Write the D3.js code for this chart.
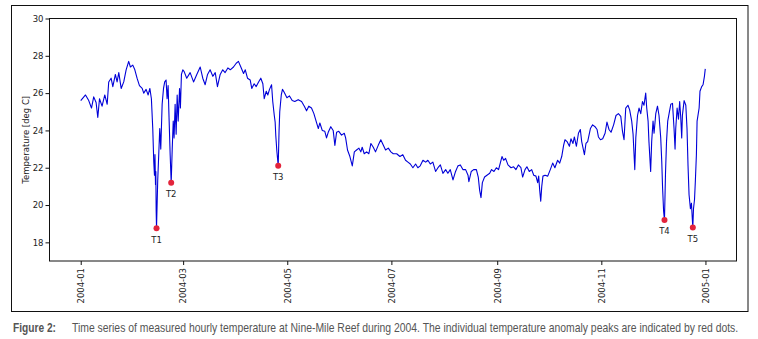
<!DOCTYPE html>
<html>
<head>
<meta charset="utf-8">
<script src="https://cdn.jsdelivr.net/npm/d3@7"></script>
<style>
  body { margin: 0; background: #fff; }
  svg { display: block; }
</style>
</head>
<body>
<svg id="chart" width="758" height="339"></svg>
<script>
// days since 2004-01-01 00:00 and temperature in deg C
const dayOfYear = [
  0.0, 2.8, 4.7, 6.3, 7.6, 9.0, 10.0, 11.0, 12.5, 14.1, 15.5, 16.4, 17.8, 18.8, 20.3, 21.3, 22.3, 23.7, 25.2, 26.6,
  28.1, 29.1, 30.5, 31.7, 33.0, 34.4, 36.0, 36.9, 38.3, 39.5, 40.5, 41.4, 42.2, 42.8, 43.2, 43.5, 43.8, 44.0, 44.2, 44.4,
  45.1, 45.7, 46.3, 46.9, 47.7, 48.5, 49.2, 50.0, 50.6, 51.2, 51.8, 52.4, 53.0, 53.6, 54.2, 54.7, 55.3, 55.9, 56.5, 57.1,
  57.9, 58.4, 59.0, 59.8, 60.6, 62.1, 64.1, 66.1, 68.0, 70.0, 71.5, 72.9, 74.3, 75.8, 77.4, 78.8, 80.1, 81.7, 83.2, 84.6,
  86.2, 87.6, 89.5, 91.1, 92.4, 93.8, 95.4, 96.4, 97.7, 99.3, 100.2, 101.6, 102.8, 104.2, 105.5, 106.7, 107.5, 108.7, 109.6, 110.6,
  111.8, 112.5, 113.4, 113.9, 114.3, 114.9, 115.7, 116.2, 116.6, 117.0, 117.5, 118.2, 119.2, 120.8, 122.3, 123.9, 125.4, 127.4, 129.4, 131.0,
  132.3, 133.6, 135.2, 136.6, 138.2, 139.2, 140.1, 141.5, 143.0, 144.0, 145.0, 146.5, 147.9, 148.9, 149.9, 151.2, 152.8, 154.4, 155.2, 156.3,
  157.7, 159.1, 160.3, 161.6, 163.0, 164.1, 164.9, 166.1, 167.5, 168.8, 170.0, 171.4, 172.7, 174.3, 175.8, 177.3, 178.6, 180.2, 181.7, 183.1,
  185.1, 187.0, 188.7, 190.3, 191.7, 193.1, 194.6, 196.2, 197.5, 198.9, 200.5, 202.1, 203.4, 204.8, 206.3, 207.9, 209.3, 210.7, 212.2, 213.8,
  215.1, 216.5, 218.1, 219.6, 221.0, 222.4, 223.9, 225.5, 226.9, 227.4, 228.8, 230.2, 231.8, 232.9, 233.7, 234.5, 235.3, 236.6, 238.0, 239.6,
  240.7, 242.1, 243.5, 244.8, 245.8, 246.8, 247.8, 248.9, 250.3, 252.1, 253.6, 255.0, 256.4, 257.9, 258.9, 260.3, 261.4, 262.8, 264.2, 265.4,
  266.7, 267.7, 268.3, 268.9, 269.5, 270.1, 270.8, 272.0, 273.6, 275.1, 276.5, 277.8, 279.4, 280.6, 281.8, 282.9, 283.7, 284.9, 286.3, 287.2,
  288.4, 289.2, 290.4, 291.6, 292.7, 293.5, 295.1, 296.0, 297.0, 298.6, 299.9, 301.3, 302.5, 303.3, 304.5, 305.8, 307.2, 308.3, 309.5, 310.7,
  312.2, 313.6, 315.0, 316.4, 317.4, 318.3, 319.3, 320.6, 321.6, 322.8, 323.6, 324.6, 325.2, 326.2, 327.1, 328.1, 329.1, 330.0, 331.0, 331.6,
  332.4, 332.9, 333.9, 334.5, 335.3, 335.9, 336.9, 337.9, 338.8, 339.8, 340.4, 340.9, 341.5, 342.0, 342.6, 343.2, 343.9, 344.7, 345.7, 346.7,
  347.6, 348.2, 348.6, 349.4, 350.2, 350.9, 351.5, 352.1, 352.5, 353.5, 354.5, 355.2, 355.8, 356.4, 357.2, 357.8, 358.4, 358.6, 359.0, 359.6,
  360.1, 360.7, 361.1, 361.7, 362.3, 362.8, 363.8, 364.6, 365.4, 365.9
];
const temperature = [
  25.6, 25.9, 25.6, 25.2, 25.8, 25.5, 24.7, 25.7, 25.3, 25.9, 25.4, 26.6, 26.8, 26.35, 27.0, 26.6, 27.1, 26.25, 26.6, 27.25,
  27.7, 27.4, 27.5, 27.25, 26.8, 26.4, 26.25, 26.0, 26.2, 25.9, 26.25, 25.7, 24.1, 22.3, 21.6, 22.7, 21.1, 21.8, 19.7, 18.75,
  21.3, 22.7, 24.1, 23.0, 25.4, 26.25, 26.6, 26.7, 25.7, 26.4, 24.5, 22.7, 21.2, 23.0, 24.5, 23.6, 25.4, 23.8, 25.9, 24.5,
  26.25, 25.2, 27.0, 27.25, 27.15, 26.8, 27.1, 26.6, 27.0, 27.4, 26.8, 26.45, 27.0, 27.25, 26.9, 27.1, 26.35, 27.0, 27.25, 27.1,
  27.35, 27.25, 27.4, 27.6, 27.7, 27.4, 27.05, 27.25, 26.8, 26.7, 26.25, 26.5, 26.35, 26.6, 26.8, 26.5, 25.7, 26.1, 25.9, 26.2,
  26.45, 25.55, 24.8, 24.45, 23.7, 22.9, 22.1, 24.0, 25.0, 25.4, 25.9, 26.2, 26.05, 25.75, 25.85, 25.6, 25.55, 25.65, 25.55, 25.3,
  25.05, 25.3, 25.2, 24.9, 24.4, 24.1, 24.4, 24.0, 23.95, 23.6, 23.9, 24.2, 24.0, 23.2, 23.9, 23.95, 23.75, 23.85, 23.6, 22.95,
  22.6, 22.1, 22.85, 22.95, 23.05, 22.85, 23.1, 22.75, 22.85, 22.75, 23.3, 23.1, 22.85, 23.2, 23.5, 23.2, 22.95, 23.05, 22.85, 22.75,
  22.75, 22.6, 22.7, 22.4, 22.3, 22.2, 22.0, 22.2, 22.0, 22.1, 22.4, 22.3, 22.4, 22.2, 22.3, 21.8, 22.0, 22.15, 21.7, 21.9,
  21.7, 21.9, 21.35, 21.8, 22.1, 22.15, 21.9, 21.9, 21.6, 21.25, 21.8, 21.9, 21.9, 21.5, 20.8, 20.4, 21.2, 21.5, 21.6, 21.7,
  21.9, 21.8, 22.0, 21.9, 22.25, 22.6, 22.4, 22.5, 22.15, 22.0, 22.05, 21.9, 22.15, 22.0, 21.5, 21.9, 22.05, 21.8, 21.9, 21.6,
  21.55, 21.2, 21.55, 20.8, 20.2, 21.0, 21.55, 21.6, 21.55, 21.9, 22.25, 22.0, 22.4, 22.25, 22.6, 23.2, 23.5, 23.4, 23.15, 23.55,
  23.3, 23.65, 23.15, 23.85, 24.05, 23.4, 22.7, 23.3, 23.4, 24.1, 24.3, 24.2, 24.05, 23.65, 23.5, 23.55, 23.85, 24.45, 24.05, 23.9,
  24.3, 24.8, 24.9, 24.75, 23.95, 23.5, 25.2, 25.35, 25.1, 24.5, 23.8, 21.9, 23.6, 24.8, 25.2, 24.9, 25.55, 25.35, 26.0, 25.2,
  24.5, 23.4, 21.8, 23.4, 24.5, 23.85, 24.9, 25.3, 24.8, 23.6, 22.35, 20.9, 19.65, 19.2, 21.7, 23.4, 24.5, 24.9, 25.4, 25.45,
  24.1, 23.0, 24.1, 25.2, 24.6, 25.55, 24.75, 23.6, 24.8, 25.6, 25.35, 24.1, 22.1, 20.55, 19.8, 20.1, 19.1, 18.8, 19.8, 20.3,
  21.3, 22.7, 24.5, 24.85, 25.2, 26.1, 26.35, 26.45, 26.9, 27.3
];

// temperature anomaly peaks
const peakNames = ["T1", "T2", "T3", "T4", "T5"];
const peakDays = [44.4, 53.0, 115.7, 342.0, 358.6];
const peakTemps = [18.75, 21.2, 22.1, 19.2, 18.8];

const yTicks = [18, 20, 22, 24, 26, 28, 30];
const xTickLabels = ["2004-01", "2004-03", "2004-05", "2004-07", "2004-09", "2004-11", "2005-01"];

const captionLabel = "Figure 2:";
const captionText = "Time series of measured hourly temperature at Nine-Mile Reef during 2004. The individual temperature anomaly peaks are indicated by red dots.";

const width = 758, height = 339;
const margin = { top: 18.5, right: 21.5, bottom: 78, left: 49.5 };

const start = Date.UTC(2004, 0, 1);
const toDate = d => new Date(start + d * 86400000);

const data = dayOfYear.map((d, i) => ({ date: toDate(d), temp: temperature[i] }));
const peaks = peakNames.map((n, i) => ({ name: n, date: toDate(peakDays[i]), temp: peakTemps[i] }));

// matplotlib-style 5% padding round the data
const span = d3.max(dayOfYear) - d3.min(dayOfYear);
const x = d3.scaleUtc()
  .domain([toDate(d3.min(dayOfYear) - 0.05 * span), toDate(d3.max(dayOfYear) + 0.05 * span)])
  .range([margin.left, width - margin.right]);

const y = d3.scaleLinear()
  .domain([17, 30])
  .range([height - margin.bottom, margin.top]);

const svg = d3.select("#chart");

// outer figure frame
svg.append("rect")
  .attr("x", 11.5).attr("y", 5.5)
  .attr("width", 736.5).attr("height", 306)
  .attr("fill", "none").attr("stroke", "#111").attr("stroke-width", 1);

const parseMonth = d3.utcParse("%Y-%m");
const xAxis = d3.axisBottom(x)
  .tickValues(xTickLabels.map(parseMonth))
  .tickFormat(d3.utcFormat("%Y-%m"))
  .tickSize(4)
  .tickSizeOuter(0);

const gx = svg.append("g")
  .attr("transform", `translate(0,${height - margin.bottom})`)
  .call(xAxis);
gx.select(".domain").remove();
gx.selectAll("text")
  .attr("transform", "rotate(-90)")
  .attr("x", -7).attr("y", 0).attr("dy", "0.33em")
  .attr("text-anchor", "end");

const gy = svg.append("g")
  .attr("transform", `translate(${margin.left},0)`)
  .call(d3.axisLeft(y).tickValues(yTicks).tickSize(4).tickPadding(2));
gy.select(".domain").remove();

svg.selectAll(".tick text")
  .attr("font-family", "DejaVu Sans, sans-serif")
  .attr("font-size", 8.5)
  .attr("fill", "#222");
svg.selectAll(".tick line").attr("stroke", "#111");

// plot frame
svg.append("rect")
  .attr("x", margin.left).attr("y", margin.top)
  .attr("width", width - margin.left - margin.right)
  .attr("height", height - margin.top - margin.bottom)
  .attr("fill", "none").attr("stroke", "#111").attr("stroke-width", 1);

svg.append("text")
  .attr("transform", `translate(26,${(margin.top + height - margin.bottom) / 2}) rotate(-90)`)
  .attr("text-anchor", "middle")
  .attr("dy", "0.35em")
  .attr("font-family", "DejaVu Sans, sans-serif")
  .attr("font-size", 8.5)
  .attr("fill", "#222")
  .text("Temperature [deg C]");

const line = d3.line()
  .x(d => x(d.date))
  .y(d => y(d.temp));

svg.append("path")
  .datum(data)
  .attr("fill", "none")
  .attr("stroke", "#0000d8")
  .attr("stroke-width", 1.1)
  .attr("stroke-linejoin", "round")
  .attr("d", line);

svg.append("g")
  .selectAll("circle")
  .data(peaks)
  .join("circle")
  .attr("cx", d => x(d.date))
  .attr("cy", d => y(d.temp))
  .attr("r", 3)
  .attr("fill", "#e3243b");

svg.append("g")
  .selectAll("text")
  .data(peaks)
  .join("text")
  .attr("x", d => x(d.date))
  .attr("y", d => y(d.temp) + 14.5)
  .attr("text-anchor", "middle")
  .attr("font-family", "DejaVu Sans, sans-serif")
  .attr("font-size", 8.5)
  .attr("fill", "#222")
  .text(d => d.name);

// caption: condensed look by squeezing the text horizontally
const capFont = "'Liberation Sans Narrow', 'Arial Narrow', 'Liberation Sans', Arial, sans-serif";
function caption(str, x0, w, bold) {
  const t = svg.append("text")
    .attr("font-family", capFont)
    .attr("font-size", 12)
    .attr("font-weight", bold ? "bold" : "normal")
    .attr("fill", "#555")
    .text(str);
  const natural = t.node().getComputedTextLength();
  t.attr("transform", `translate(${x0},331.5) scale(${w / natural},1)`);
}
caption(captionLabel, 13, 43, true);
caption(captionText, 72, 667, false);
</script>
</body>
</html>
